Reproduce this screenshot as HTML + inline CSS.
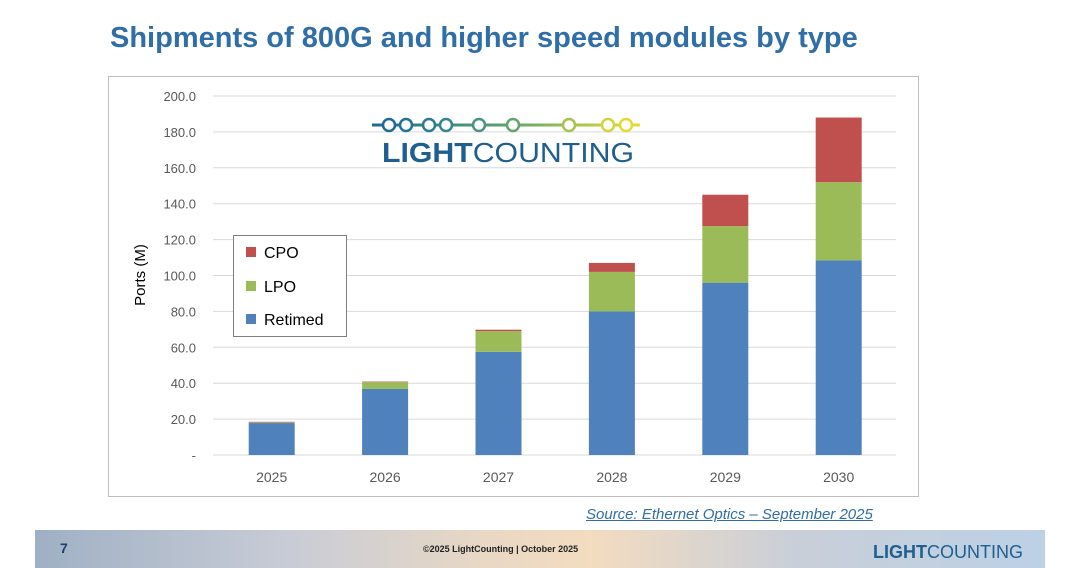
<!DOCTYPE html>
<html><head><meta charset="utf-8">
<style>
body{margin:0;width:1080px;height:568px;background:#fff;font-family:"Liberation Sans",sans-serif;position:relative;overflow:hidden}
#title{position:absolute;left:110px;top:22px;font-size:29px;font-weight:bold;color:#2f6ea6;letter-spacing:0px}
#source{position:absolute;left:586px;top:506px;font-size:15px;font-style:italic;color:#2f6ea6;text-decoration:underline}
#footer{position:absolute;left:35px;top:530px;width:1010px;height:38px;background:linear-gradient(90deg,#9fb0c4 0%,#c8ccd6 25%,#e9d8c4 45%,#f3dcc0 55%,#c9cfd8 75%,#bcd0e6 100%)}
</style></head><body>
<div id="title">Shipments of 800G and higher speed modules by type</div>
<svg width="1080" height="568" style="position:absolute;left:0;top:0" id="chart">
<defs><linearGradient id="lg" gradientUnits="userSpaceOnUse" x1="372" y1="0" x2="640" y2="0"><stop offset="0" stop-color="#1f6a96"/><stop offset="0.5" stop-color="#5aa56a"/><stop offset="1" stop-color="#e8dc30"/></linearGradient></defs>
<rect x="108.5" y="76.5" width="810" height="420" fill="#fff" stroke="#bfbfbf"/>
<g id="grid"></g><g id="bars"></g><g id="xl"></g>
<text x="145" y="275" transform="rotate(-90 145 275)" text-anchor="middle" font-size="15" fill="#000">Ports (M)</text>
<g>
<rect x="372" y="123.5" width="268" height="3" fill="url(#lg)"/>
<g fill="#fff" stroke-width="2.5">
<circle cx="389" cy="125" r="6" stroke="#1f6a96"/><circle cx="406" cy="125" r="6" stroke="#22719a"/><circle cx="429" cy="125" r="6" stroke="#2b7a98"/><circle cx="446" cy="125" r="6" stroke="#348392"/><circle cx="479" cy="125" r="6" stroke="#4a9380"/><circle cx="513" cy="125" r="6" stroke="#66a36c"/><circle cx="569" cy="125" r="6" stroke="#a8c24c"/><circle cx="608" cy="125" r="6" stroke="#d2d43a"/><circle cx="626" cy="125" r="6" stroke="#e4da32"/></g>
<text x="382" y="162" font-size="28" fill="#1f5f8f" textLength="252" lengthAdjust="spacingAndGlyphs"><tspan font-weight="bold">LIGHT</tspan>COUNTING</text></g>
<g>
<rect x="233.5" y="235.5" width="113" height="101" fill="#fff" stroke="#7f7f7f"/>
<rect x="246" y="247" width="10" height="10" fill="#c0504d"/><text x="264" y="258" font-size="16">CPO</text>
<rect x="246" y="281" width="10" height="10" fill="#9bbb59"/><text x="264" y="292" font-size="16">LPO</text>
<rect x="246" y="314" width="10" height="10" fill="#4f81bd"/><text x="264" y="325" font-size="16">Retimed</text></g>
</svg>
<div id="source">Source: Ethernet Optics – September 2025</div>
<div id="footer">
<span style="position:absolute;left:25px;top:10px;font-size:14px;font-weight:bold;color:#1f3f6f">7</span>
<span style="position:absolute;left:388px;top:14px;font-size:9px;font-weight:bold;color:#222">©2025 LightCounting | October 2025</span>
<span style="position:absolute;left:838px;top:12px;font-size:18px;color:#1f5f8f"><b>LIGHT</b>COUNTING</span>
</div>
<script>
const categories=["2025","2026","2027","2028","2029","2030"];
const retimed=[17.8,36.8,57.5,80,96,108.5];
const lpo=[0.4,3.8,11.5,22,31.5,43.5];
const cpo=[0.3,0.3,0.8,5,17.5,36];
const yTicks=[0,20,40,60,80,100,120,140,160,180,200];
const yLabels=["-","20.0","40.0","60.0","80.0","100.0","120.0","140.0","160.0","180.0","200.0"];
const NS="http://www.w3.org/2000/svg";
const y0=455,y1=96,xl=215,step=113.4,bw=46;
function yS(v){return y0-(v/200)*(y0-y1);}
function xC(i){return xl+step*(i+0.5);}
function mk(t,a,p){const e=document.createElementNS(NS,t);for(const k in a)e.setAttribute(k,a[k]);p.appendChild(e);return e;}
const g=document.getElementById('grid');
yTicks.forEach((v,i)=>{
 if(v>0){const l=mk('line',{x1:213,x2:896,y1:yS(v),y2:yS(v),stroke:'#d9d9d9'},g);
 
 }
 const t=mk('text',{x:196,y:yS(v)+5,'text-anchor':'end','font-size':13,fill:'#595959'},g);t.textContent=yLabels[i];
 
 
});
mk('line',{x1:213,x2:896,y1:y0,y2:y0,stroke:'#d9d9d9'},g);
const b=document.getElementById('bars'),x=document.getElementById('xl');
const series=[[retimed,'#4f81bd','retimed'],[lpo,'#9bbb59','lpo'],[cpo,'#c0504d','cpo']];
categories.forEach((c,i)=>{
 let base=0;
 series.forEach(([arr,col,n])=>{
  const r=mk('rect',{x:xC(i)-bw/2,y:yS(base+arr[i]),width:bw,height:yS(base)-yS(base+arr[i]),fill:col},b);
  
  
  base+=arr[i];
 });
 const t=mk('text',{x:xC(i),y:482,'text-anchor':'middle','font-size':14,fill:'#595959'},x);t.textContent=c;
 
 
});
</script>
</body></html>
